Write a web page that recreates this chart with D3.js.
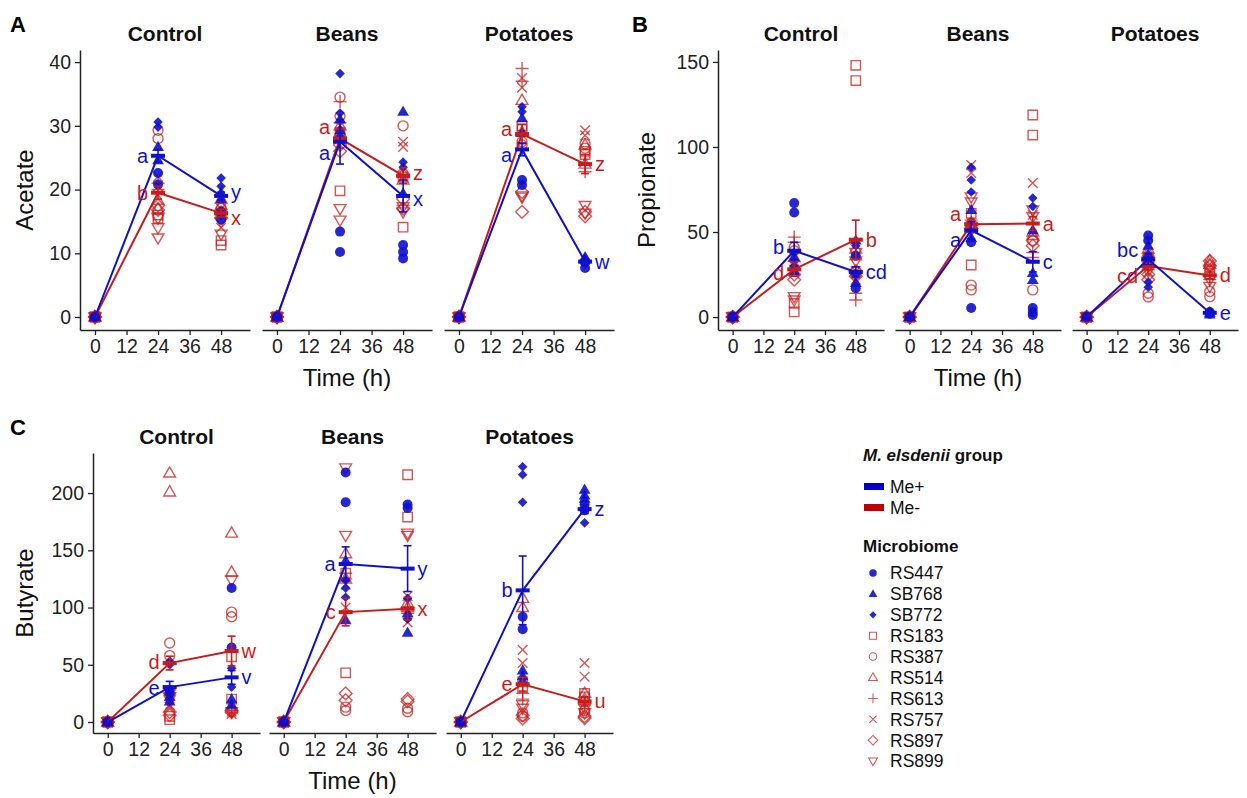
<!DOCTYPE html>
<html>
<head>
<meta charset="utf-8">
<script src="https://cdn.jsdelivr.net/npm/d3@7"></script>
<style>
  body { margin: 0; background: #fff; }
  text { font-family: "Liberation Sans", Arial, sans-serif; }
</style>
</head>
<body>
<div id="chart"></div>
<script>
// categories
var substrates = ["Control", "Beans", "Potatoes"];
var times = [0, 24, 48];
var timeTicks = [0, 12, 24, 36, 48];
var microbiomes = ["RS447", "SB768", "SB772", "RS183", "RS387", "RS514", "RS613", "RS757", "RS897", "RS899"];
var meGroup = ["Me+", "Me+", "Me+", "Me-", "Me-", "Me-", "Me-", "Me-", "Me-", "Me-"];
var microbiomeShape = ["circle", "triangle", "smallDiamond", "square", "circle", "triangle", "plus", "cross", "diamond", "triangleDown"];

// replicate values per microbiome (same order as microbiomes)
var zeroHour = [[0, 0], [0, 0], [0, 0], [0, 0], [0, 0], [0, 0], [0, 0], [0, 0], [0, 0], [0, 0]];

// Acetate
var acetateControl24 = [[22.6, 20.8], [26.7, 24.6], [30.6, 29.8], [16, 15.5], [29.3, 28], [18.3, 17], [21, 20], [22, 20.5], [17.5, 16.8], [15.5, 14, 12.4]];
var acetateControl48 = [[16.5, 15.3], [19.5, 18.5], [21.8, 20.5], [12, 11.3], [17, 16.5], [18.5, 17.5], [16.5, 16], [17, 14], [16.3, 15.5], [15, 13]];
var acetateBeans24 = [[13.4, 10.2], [29.3, 28.5, 31], [38.2, 32], [19.8, 29], [34.5, 31.5], [30, 29], [33.8, 30.5], [30, 28], [27, 26], [17, 15.2]];
var acetateBeans48 = [[11.3, 10.2, 9.2], [32.2, 19.4], [24.3, 23.5], [22, 14.1], [30, 22.5], [21.5, 22.5], [22, 17.5], [27.5, 26.7], [18.5, 17], [17.3, 16.5]];
var acetatePotatoes24 = [[21.5, 20.7], [31.2, 28.9], [33, 32.2], [30, 29.5], [27.5, 27], [34, 29], [39, 37], [37.5, 36], [19.6, 16.5], [18.8, 19]];
var acetatePotatoes48 = [[8.6, 7.7], [9.4, 9], [9.1, 8.3], [26, 25.5], [27.2, 26.5], [27, 24], [24, 22.8], [29.3, 28.5], [16.5, 15.8], [17.5, 16.3]];
var acetatePlusMean = [[0, 25.3, 19.0], [0, 27.5, 19.0], [0, 26.3, 8.7]];
var acetateMinusMean = [[0, 19.5, 16.3], [0, 28.0, 22.2], [0, 28.7, 24.0]];
var acetatePlusSe = [[0, 1.0, 0.6], [0, 3.5, 2.5], [0, 1.0, 0.3]];
var acetateMinusSe = [[0, 1.0, 0.6], [0, 1.5, 1.2], [0, 1.5, 1.5]];
var acetatePlusLetters = [["a", "y"], ["a", "x"], ["a", "w"]];
var acetateMinusLetters = [["b", "x"], ["a", "z"], ["a", "z"]];

// Propionate
var propionateControl24 = [[67, 61.5], [35, 27], [38, 30], [8, 3], [41, 39], [35, 30], [47, 44], [28, 27], [25, 22], [12, 10]];
var propionateControl48 = [[36, 17], [45, 20], [42, 25], [148, 139], [27, 25], [40, 36], [14, 10], [27, 22], [27, 24], [38, 33]];
var propionateBeans24 = [[5.3, 44], [63, 46.5], [88, 80.6, 73.5], [61, 30.6], [18.8, 16], [55, 52], [57, 50], [89.4, 84.7], [55, 52], [70.6, 67.6]];
var propionateBeans48 = [[5.3, 1.2, 3], [51, 25.9, 21.8], [70, 65], [118.8, 107], [16, 45], [50, 48], [38, 35], [78.8, 60], [45, 42], [63, 59]];
var propionatePotatoes24 = [[48, 45], [42, 37], [20.6, 17.6], [35, 32], [14, 11.8], [40, 38], [30.6, 28], [26.5, 33], [22, 25], [30, 27]];
var propionatePotatoes48 = [[3, 2], [2.5, 1.5], [3.5, 2], [27, 25], [15, 12], [33, 31], [24, 22], [31, 27], [33, 30], [18, 22]];
var propionatePlusMean = [[0, 39, 26.5], [0, 51, 32.5], [0, 34, 2.5]];
var propionateMinusMean = [[0, 28, 45.5], [0, 54.5, 55], [0, 30, 24.5]];
var propionatePlusSe = [[0, 5, 3], [0, 5, 6], [0, 3, 0.5]];
var propionateMinusSe = [[0, 4, 11.5], [0, 3, 4], [0, 2, 2]];
var propionatePlusLetters = [["b", "cd"], ["a", "c"], ["bc", "e"]];
var propionateMinusLetters = [["d", "b"], ["a", "a"], ["cd", "d"]];

// Butyrate
var butyrateControl24 = [[28, 25], [22, 18], [53, 50], [5, 2], [69, 58], [217.5, 201], [28, 25], [13, 15], [8.7, 6], [22, 20]];
var butyrateControl48 = [[117, 65], [20, 15], [47, 30.5], [57, 20], [96, 92], [165, 131], [10, 8], [9, 7], [8.7, 10], [124, 9]];
var butyrateBeans24 = [[218, 192], [141, 89], [124, 117, 109], [43, 130], [13, 10], [147, 125], [130, 125], [120, 100], [25, 19], [222, 163]];
var butyrateBeans48 = [[190, 187], [95, 78], [108, 90], [216, 179], [12, 9], [104, 100], [100, 95], [110, 87], [20, 18], [165, 163]];
var butyratePotatoes24 = [[92, 81], [45, 40, 36], [223, 216, 192], [35, 30], [8, 5], [108, 100], [25, 20], [63, 51.5], [6, 3], [15, 12]];
var butyratePotatoes48 = [[190, 185], [203, 198, 195], [185, 174], [25, 22], [10, 8], [25, 20], [18, 15], [51.5, 39.6], [5, 3.5], [12, 8]];
var butyratePlusMean = [[0, 30.5, 39], [0, 138, 134], [0, 115, 186]];
var butyrateMinusMean = [[0, 51.5, 62], [0, 96, 99], [0, 33, 18]];
var butyratePlusSe = [[0, 5, 6], [0, 15, 20], [0, 30, 4]];
var butyrateMinusSe = [[0, 6, 13], [0, 12, 10], [0, 6, 4]];
var butyratePlusLetters = [["e", "v"], ["a", "y"], ["b", "z"]];
var butyrateMinusLetters = [["d", "w"], ["c", "x"], ["e", "u"]];

var blue = "#1010cc";
var red = "#c81c1c";
var groupColor = { "Me+": blue, "Me-": red };

var panels = [
  {
    letter: "A", title: "Acetate", yTicks: [0, 10, 20, 30, 40], yDomain: [-2.04, 41.9],
    values: [[zeroHour, acetateControl24, acetateControl48], [zeroHour, acetateBeans24, acetateBeans48], [zeroHour, acetatePotatoes24, acetatePotatoes48]],
    plusMean: acetatePlusMean, minusMean: acetateMinusMean, plusSe: acetatePlusSe, minusSe: acetateMinusSe,
    plusLetters: acetatePlusLetters, minusLetters: acetateMinusLetters,
    facetX: [80, 262, 444], facetW: 170, top: 50, bottom: 330, letterX: 10, letterY: 32, titleX: 33
  },
  {
    letter: "B", title: "Propionate", yTicks: [0, 50, 100, 150], yDomain: [-7.6, 157],
    values: [[zeroHour, propionateControl24, propionateControl48], [zeroHour, propionateBeans24, propionateBeans48], [zeroHour, propionatePotatoes24, propionatePotatoes48]],
    plusMean: propionatePlusMean, minusMean: propionateMinusMean, plusSe: propionatePlusSe, minusSe: propionateMinusSe,
    plusLetters: propionatePlusLetters, minusLetters: propionateMinusLetters,
    facetX: [718, 895, 1072], facetW: 166, top: 50, bottom: 330, letterX: 632, letterY: 32, titleX: 655
  },
  {
    letter: "C", title: "Butyrate", yTicks: [0, 50, 100, 150, 200], yDomain: [-9.6, 235],
    values: [[zeroHour, butyrateControl24, butyrateControl48], [zeroHour, butyrateBeans24, butyrateBeans48], [zeroHour, butyratePotatoes24, butyratePotatoes48]],
    plusMean: butyratePlusMean, minusMean: butyrateMinusMean, plusSe: butyratePlusSe, minusSe: butyrateMinusSe,
    plusLetters: butyratePlusLetters, minusLetters: butyrateMinusLetters,
    facetX: [93, 269, 446], facetW: 167, top: 453, bottom: 733, letterX: 10, letterY: 435, titleX: 33
  }
];

function shapePath(kind) {
  var r;
  switch (kind) {
    case "circle":
      r = 5;
      return "M" + (-r) + ",0a" + r + "," + r + " 0 1,0 " + (2 * r) + ",0a" + r + "," + r + " 0 1,0 " + (-2 * r) + ",0Z";
    case "triangle":
      r = 6.2;
      return "M0," + (-r) + "L" + (r * 0.95) + "," + (r * 0.65) + "L" + (-r * 0.95) + "," + (r * 0.65) + "Z";
    case "triangleDown":
      r = 6.2;
      return "M0," + r + "L" + (r * 0.95) + "," + (-r * 0.65) + "L" + (-r * 0.95) + "," + (-r * 0.65) + "Z";
    case "smallDiamond":
      r = 4.8;
      return "M0," + (-r) + "L" + r + ",0L0," + r + "L" + (-r) + ",0Z";
    case "diamond":
      r = 6.4;
      return "M0," + (-r) + "L" + r + ",0L0," + r + "L" + (-r) + ",0Z";
    case "square":
      r = 4.7;
      return "M" + (-r) + "," + (-r) + "H" + r + "V" + r + "H" + (-r) + "Z";
    case "plus":
      r = 6.5;
      return "M" + (-r) + ",0H" + r + "M0," + (-r) + "V" + r;
    case "cross":
      r = 4.8;
      return "M" + (-r) + "," + (-r) + "L" + r + "," + r + "M" + (-r) + "," + r + "L" + r + "," + (-r);
  }
}

function styleSymbol(sel, mi) {
  var col = groupColor[meGroup[mi]];
  if (meGroup[mi] === "Me+") {
    sel.attr("fill", col).attr("fill-opacity", 0.9).attr("stroke", "none");
  } else {
    sel.attr("fill", "none").attr("stroke", col).attr("stroke-opacity", 0.75).attr("stroke-width", 1.4);
  }
}

var svg = d3.select("#chart").append("svg").attr("width", 1247).attr("height", 798);

panels.forEach(function (p) {
  var g = svg.append("g");
  var y = d3.scaleLinear().domain(p.yDomain).range([p.bottom, p.top]);

  g.append("text").attr("x", p.letterX).attr("y", p.letterY)
    .style("font-size", "22px").style("font-weight", "bold").attr("fill", "#000").text(p.letter);

  g.append("text")
    .attr("transform", "translate(" + p.titleX + "," + ((p.top + p.bottom) / 2) + ") rotate(-90)")
    .attr("text-anchor", "middle").style("font-size", "24px").attr("fill", "#111").text(p.title);

  substrates.forEach(function (sub, si) {
    var x0 = p.facetX[si];
    var x = d3.scaleLinear().domain([-5.7, 59]).range([x0, x0 + p.facetW]);
    var fg = g.append("g");

    fg.append("text").attr("x", x0 + p.facetW / 2).attr("y", p.top - 9)
      .attr("text-anchor", "middle").style("font-size", "21px").style("font-weight", "bold")
      .attr("fill", "#111").text(sub);

    // x axis
    var xa = fg.append("g").attr("transform", "translate(0," + p.bottom + ")")
      .call(d3.axisBottom(x).tickValues(timeTicks).tickSize(5).tickSizeOuter(0).tickPadding(4));
    xa.selectAll("text").style("font-size", "19.5px").attr("fill", "#222");
    xa.selectAll("line").attr("stroke", "#222").attr("stroke-width", 1.3);
    xa.select(".domain").attr("stroke", "#222").attr("stroke-width", 1.5);

    if (si === 0) {
      var ya = fg.append("g").attr("transform", "translate(" + x0 + ",0)")
        .call(d3.axisLeft(y).tickValues(p.yTicks).tickSize(5).tickSizeOuter(0).tickPadding(4));
      ya.selectAll("text").style("font-size", "19.5px").attr("fill", "#222");
      ya.selectAll("line").attr("stroke", "#222").attr("stroke-width", 1.3);
      ya.select(".domain").attr("stroke", "#222").attr("stroke-width", 1.5);
    }
    if (si === 1) {
      fg.append("text").attr("x", x0 + p.facetW / 2).attr("y", p.bottom + 56)
        .attr("text-anchor", "middle").style("font-size", "24px").attr("fill", "#111").text("Time (h)");
    }

    // points
    var pts = [];
    times.forEach(function (t, ti) {
      p.values[si][ti].forEach(function (reps, mi) {
        reps.forEach(function (v) { pts.push({ t: t, v: v, mi: mi }); });
      });
    });
    // red (open) first, then blue on top
    pts.sort(function (a, b) { return (meGroup[b.mi] === "Me+" ? 0 : 1) - (meGroup[a.mi] === "Me+" ? 0 : 1); });
    pts.forEach(function (d) {
      fg.append("path").attr("d", shapePath(microbiomeShape[d.mi]))
        .attr("transform", "translate(" + x(d.t) + "," + y(d.v) + ")")
        .call(styleSymbol, d.mi);
    });

    // group means
    var groups = [
      { key: "Me-", mean: p.minusMean[si], se: p.minusSe[si] },
      { key: "Me+", mean: p.plusMean[si], se: p.plusSe[si] }
    ];
    var line = d3.line().x(function (d, i) { return x(times[i]); }).y(function (d) { return y(d); });
    groups.forEach(function (gr) {
      var col = groupColor[gr.key];
      fg.append("path").attr("d", line(gr.mean)).attr("fill", "none")
        .attr("stroke", col).attr("stroke-width", 2);
      gr.mean.forEach(function (m, ti) {
        var cx = x(times[ti]);
        if (gr.se[ti] > 0) {
          fg.append("line").attr("x1", cx).attr("x2", cx)
            .attr("y1", y(m - gr.se[ti])).attr("y2", y(m + gr.se[ti]))
            .attr("stroke", col).attr("stroke-width", 1.6);
          [m - gr.se[ti], m + gr.se[ti]].forEach(function (e) {
            fg.append("line").attr("x1", cx - 4).attr("x2", cx + 4).attr("y1", y(e)).attr("y2", y(e))
              .attr("stroke", col).attr("stroke-width", 1.6);
          });
        }
        if (ti > 0) {
          fg.append("line").attr("x1", cx - 7).attr("x2", cx + 7).attr("y1", y(m)).attr("y2", y(m))
            .attr("stroke", col).attr("stroke-width", 4);
        }
      });
    });

    // significance letters, pushed apart when they would overlap
    [1, 2].forEach(function (ti) {
      var yp = y(p.plusMean[si][ti]), ym = y(p.minusMean[si][ti]);
      if (Math.abs(yp - ym) < 26) {
        var mid = (yp + ym) / 2;
        if (yp <= ym) { yp = mid - 13; ym = mid + 13; } else { ym = mid - 13; yp = mid + 13; }
      }
      var left = ti === 1;
      var lx = x(times[ti]) + (left ? -10 : 10);
      [[yp, p.plusLetters[si][ti - 1], blue], [ym, p.minusLetters[si][ti - 1], red]].forEach(function (l) {
        fg.append("text").attr("x", lx).attr("y", l[0]).attr("dy", "0.35em")
          .attr("text-anchor", left ? "end" : "start")
          .style("font-size", "20px").attr("fill", l[2]).text(l[1]);
      });
    });
  });
});

// legend
var lg = svg.append("g").attr("transform", "translate(863,0)");
var lt = lg.append("text").attr("x", 0).attr("y", 461).style("font-size", "17px").style("font-weight", "bold").attr("fill", "#111");
lt.append("tspan").style("font-style", "italic").text("M. elsdenii");
lt.append("tspan").text(" group");
["Me+", "Me-"].forEach(function (k, i) {
  lg.append("rect").attr("x", 1).attr("y", 483 + i * 21).attr("width", 20).attr("height", 7)
    .attr("fill", k === "Me+" ? "#0000c8" : "#c00000");
  lg.append("text").attr("x", 27).attr("y", 493 + i * 21).style("font-size", "17.5px").attr("fill", "#111").text(k);
});
lg.append("text").attr("x", 0).attr("y", 552).style("font-size", "17px").style("font-weight", "bold").attr("fill", "#111").text("Microbiome");
microbiomes.forEach(function (m, mi) {
  var cy = 573 + mi * 20.9;
  lg.append("path").attr("d", shapePath(microbiomeShape[mi]))
    .attr("transform", "translate(10," + cy + ") scale(0.75)")
    .call(styleSymbol, mi);
  lg.append("text").attr("x", 27).attr("y", cy).attr("dy", "0.36em").style("font-size", "17.5px").attr("fill", "#111").text(m);
});
</script>
</body>
</html>
